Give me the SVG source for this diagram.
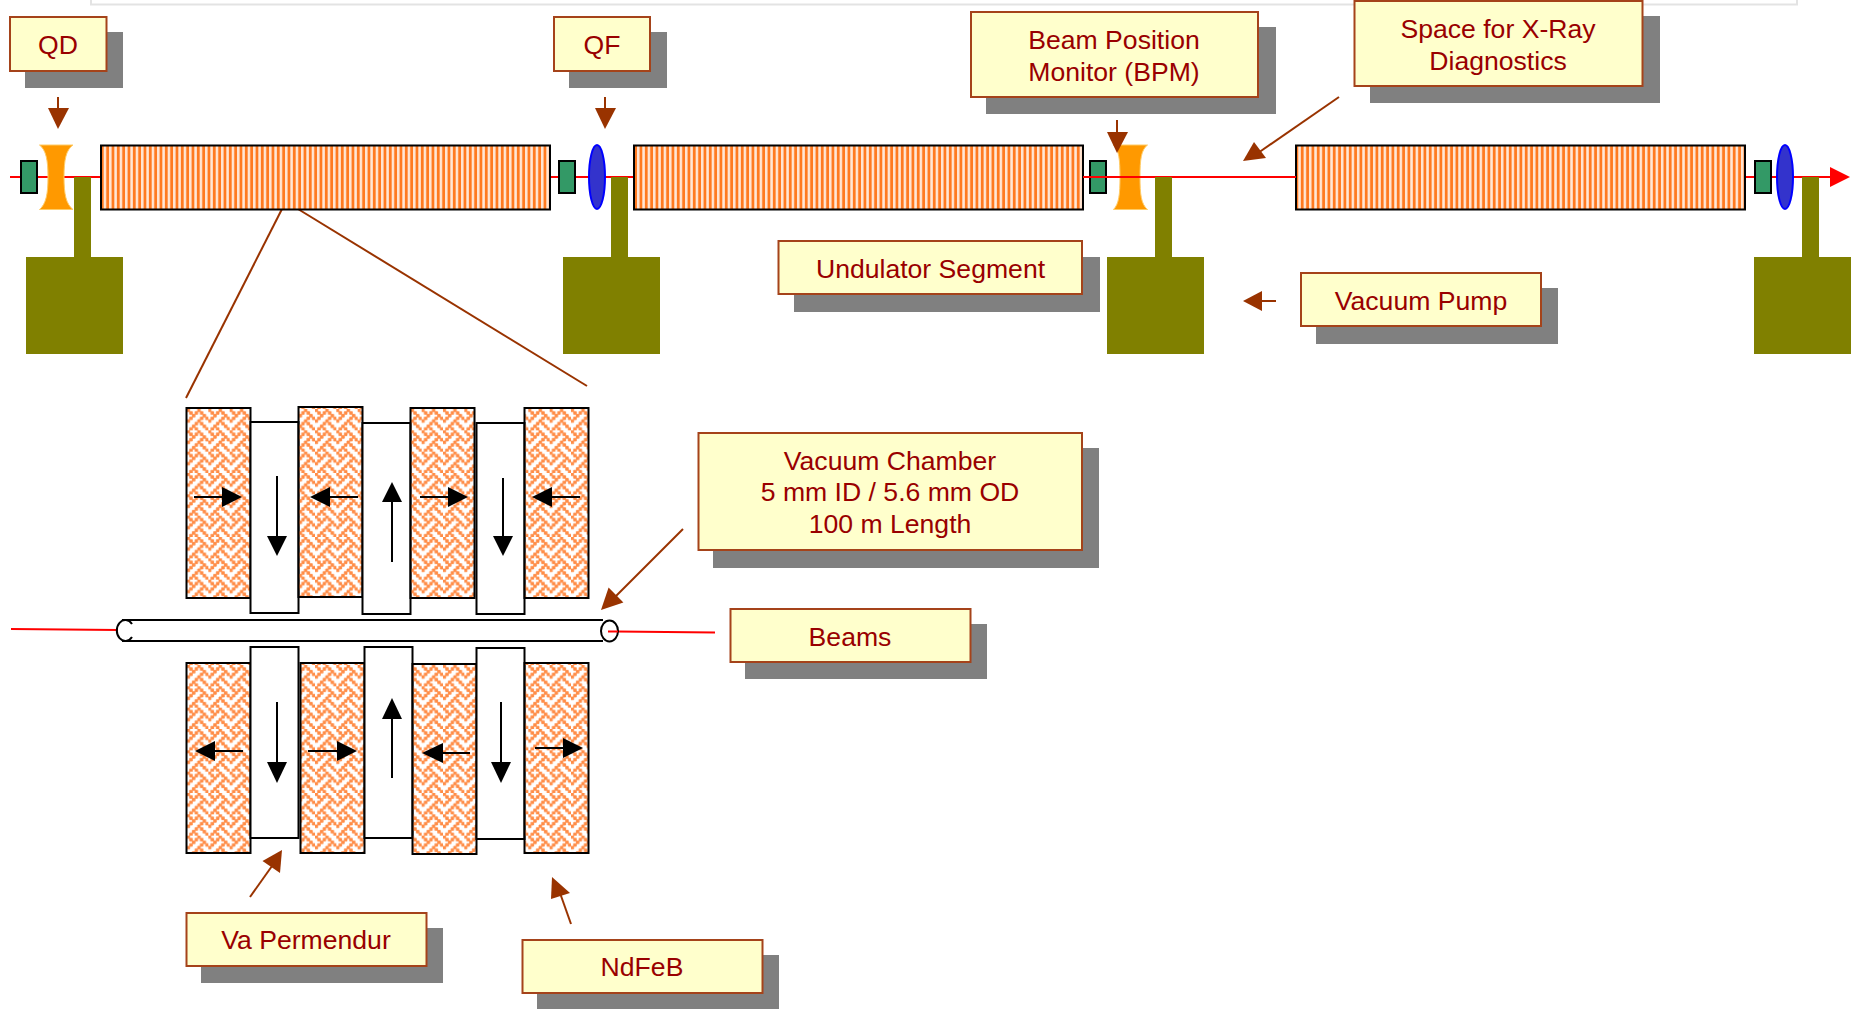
<svg xmlns="http://www.w3.org/2000/svg" width="1854" height="1009" viewBox="0 0 1854 1009">
<style>
.sh{fill:#808080}
.lb{fill:#ffffcc;stroke:#a5431a;stroke-width:2}
.tx{font-family:"Liberation Sans",Arial,sans-serif;font-size:26.600px;fill:#990000;text-anchor:middle}
.und{fill:url(#stripes);stroke:#000;stroke-width:2}
.mag{fill:url(#weave);stroke:#000;stroke-width:2}
.pole{fill:#fff;stroke:#000;stroke-width:2}
.bpm{fill:#339966;stroke:#000;stroke-width:2}
.qf{fill:#3333cc;stroke:#0000ff;stroke-width:2}
.qd{fill:#ff9900;stroke:#ffcc66;stroke-width:1}
.pump{fill:#808000}
.br{stroke:#993300;stroke-width:2;fill:none}
.ba{fill:#993300}
.k{stroke:#000;stroke-width:2;fill:none}
.beam{stroke:#ff0000;stroke-width:2;fill:none}
</style>
<defs>
<pattern id="stripes" patternUnits="userSpaceOnUse" width="5.333" height="8" x="101" y="0">
<rect width="5.333" height="8" fill="#ff7a20"/><rect x="2.700" width="2.500" height="8" fill="#ffe8d8"/>
</pattern>
<pattern id="weave" patternUnits="userSpaceOnUse" width="21.333" height="21.333" x="187" y="409">
<g transform="scale(2.6667)" fill="#ff8c45" stroke="#ff8c45" stroke-width=".3">
<path d="M0 0h1v1H0zM4 0h1v1H4zM1 1h1v1H1zM3 1h1v1H3zM5 1h1v1H5zM2 2h1v1H2zM6 2h1v1H6zM1 3h1v1H1zM5 3h1v1H5zM7 3h1v1H7zM0 4h1v1H0zM4 4h1v1H4zM3 5h1v1H3zM5 5h1v1H5zM2 6h1v1H2zM6 6h1v1H6zM1 7h1v1H1zM3 7h1v1H3zM7 7h1v1H7z"/>
</g>
</pattern>
</defs>
<path d="M91 0V4.500H1797V0" fill="none" stroke="#e3e3e3" stroke-width="2"/>

<g id="connectors">
<path class="beam" d="M10 177H1832"/>
<path class="beam" d="M11 629L118 630"/>
<path class="beam" d="M617 631.500L715 632.500"/>
<path class="br" d="M282 209L186 398"/>
<path class="br" d="M298 209L587 386"/>
</g>

<g id="undulators">
<rect class="und" x="101" y="145.500" width="449" height="64"/>
<rect class="und" x="634" y="145.500" width="449" height="64"/>
<rect class="und" x="1296" y="145.500" width="449" height="64"/>
</g>
<g id="bpms">
<rect class="bpm" x="21" y="161" width="16" height="32"/>
<rect class="bpm" x="559" y="161" width="16" height="32"/>
<rect class="bpm" x="1090" y="161" width="16" height="32"/>
<rect class="bpm" x="1755" y="161" width="16" height="32"/>
</g>
<g id="quads">
<path id="qd1" class="qd" d="M39.500 145H73C66 150 64 160 64 177S66 204 73 209.500H39.500C46 204 48 194 48 177S46 150 39.500 145Z"/>
<path id="qd2" class="qd" d="M1113.500 145H1147.500C1141 150 1140 160 1140 177S1141 204 1147.500 209.500H1113.500C1119 204 1120 194 1120 177S1119 150 1113.500 145Z"/>
<ellipse id="qf1" class="qf" cx="597" cy="177" rx="8" ry="32"/>
<ellipse id="qf2" class="qf" cx="1785" cy="177" rx="8" ry="32"/>
</g>
<g id="beam-over">
<path class="beam" d="M1083 177H1296"/>
</g>

<g id="pumps">
<rect class="pump" x="74" y="177" width="17" height="80"/><rect class="pump" x="26" y="257" width="97" height="97"/>
<rect class="pump" x="611" y="177" width="17" height="80"/><rect class="pump" x="563" y="257" width="97" height="97"/>
<rect class="pump" x="1155" y="177" width="17" height="80"/><rect class="pump" x="1107" y="257" width="97" height="97"/>
<rect class="pump" x="1802" y="177" width="17" height="80"/><rect class="pump" x="1754" y="257" width="97" height="97"/>
</g>

<g id="pointers">
<path d="M1830 167L1850 177L1830 187Z" fill="#ff0000"/>
<path class="br" d="M58 97V112"/><path class="ba" d="M48 108H69L58 129Z"/>
<path class="br" d="M605 97V112"/><path class="ba" d="M595 108H616L605 129Z"/>
<path class="br" d="M1117 120V135"/><path class="ba" d="M1107 132H1128L1117 153Z"/>
<path class="br" d="M1339 97L1258 153"/><path class="ba" d="M1254 142L1266 158L1243 161Z"/>
<path class="br" d="M1276 301H1260"/><path class="ba" d="M1262 291V311L1243 301Z"/>
<path class="br" d="M683 529L612 600"/><path class="ba" d="M608.600 587.600L623.400 602.400L601 610Z"/>
<path class="br" d="M250 897L272 866"/><path class="ba" d="M262.500 861L280 873L282 850Z"/>
<path class="br" d="M571 924L560 893"/><path class="ba" d="M551 899L570 893L552 877Z"/>
</g>

<g id="magnets">
<rect class="mag" x="186.500" y="408" width="64" height="190"/>
<rect class="pole" x="250.500" y="422" width="48" height="191"/>
<rect class="mag" x="298.500" y="407" width="64" height="190"/>
<rect class="pole" x="362.500" y="423" width="48" height="191"/>
<rect class="mag" x="410.500" y="408" width="64" height="190"/>
<rect class="pole" x="476.500" y="423" width="48" height="191"/>
<rect class="mag" x="524.500" y="408" width="64" height="190"/>

<rect class="mag" x="186.500" y="663" width="64" height="190"/>
<rect class="pole" x="250.500" y="647" width="48" height="191"/>
<rect class="mag" x="300.500" y="663" width="64" height="190"/>
<rect class="pole" x="364.500" y="647" width="48" height="191"/>
<rect class="mag" x="412.500" y="664" width="64" height="190"/>
<rect class="pole" x="476.500" y="648" width="48" height="191"/>
<rect class="mag" x="524.500" y="663" width="64" height="190"/>
</g>
<g id="chamber">
<path d="M122 620H603M122 641H603" class="k"/>
<path d="M132 624A8.500 10.500 0 1 0 132 637" class="k"/>
<ellipse cx="609.500" cy="631" rx="8.500" ry="10.500" fill="#fff" stroke="#000" stroke-width="2"/>
<path class="beam" d="M608 631.500L618 631.500"/>
</g>

<g id="field-arrows">
<path class="k" d="M194 497H225"/><path d="M222 487V507L242 497Z"/>
<path class="k" d="M277 476V540"/><path d="M267 536H287L277 556Z"/>
<path class="k" d="M358 497H327"/><path d="M330 487V507L310 497Z"/>
<path class="k" d="M392 562V500"/><path d="M382 502H402L392 482Z"/>
<path class="k" d="M420 497H450"/><path d="M448 487V507L468 497Z"/>
<path class="k" d="M503 478V540"/><path d="M493 536H513L503 556Z"/>
<path class="k" d="M580 497H550"/><path d="M552 487V507L532 497Z"/>

<path class="k" d="M243 751H213"/><path d="M215 741V761L195 751Z"/>
<path class="k" d="M277 702V768"/><path d="M267 762H287L277 783Z"/>
<path class="k" d="M308 751H340"/><path d="M337 741V761L357 751Z"/>
<path class="k" d="M392 778V715"/><path d="M382 719H402L392 698Z"/>
<path class="k" d="M470 753H440"/><path d="M443 743V763L422 753Z"/>
<path class="k" d="M501 702V768"/><path d="M491 762H511L501 783Z"/>
<path class="k" d="M535 748H566"/><path d="M563 738V758L583 748Z"/>
</g>

<g id="label-qd"><rect class="sh" x="25" y="32" width="98" height="56"/><rect class="lb" x="10" y="17" width="96.500" height="54"/><text class="tx" x="58" y="54">QD</text></g>
<g id="label-qf"><rect class="sh" x="569" y="32" width="98" height="56"/><rect class="lb" x="554" y="17" width="96" height="54"/><text class="tx" x="602" y="54">QF</text></g>
<g id="label-bpm"><rect class="sh" x="986" y="27" width="290" height="87"/><rect class="lb" x="971" y="12" width="287" height="85"/><text class="tx" x="1114" y="49">Beam Position</text><text class="tx" x="1114" y="81">Monitor (BPM)</text></g>
<g id="label-xray"><rect class="sh" x="1370" y="16" width="290" height="87"/><rect class="lb" x="1354.500" y="1" width="288" height="85"/><text class="tx" x="1498" y="38">Space for X-Ray</text><text class="tx" x="1498" y="70">Diagnostics</text></g>
<g id="label-undulator"><rect class="sh" x="794" y="257" width="306" height="55"/><rect class="lb" x="778.500" y="241" width="303.500" height="53"/><text class="tx" x="930.500" y="278">Undulator Segment</text></g>
<g id="label-pump"><rect class="sh" x="1316" y="288" width="242" height="56"/><rect class="lb" x="1301" y="273" width="240" height="53"/><text class="tx" x="1421" y="310">Vacuum Pump</text></g>
<g id="label-chamber"><rect class="sh" x="713" y="448" width="386" height="120"/><rect class="lb" x="698.500" y="433" width="383.500" height="117"/><text class="tx" x="890" y="470">Vacuum Chamber</text><text class="tx" x="890" y="501">5 mm ID / 5.6 mm OD</text><text class="tx" x="890" y="533">100 m Length</text></g>
<g id="label-beams"><rect class="sh" x="745" y="624" width="242" height="55"/><rect class="lb" x="730.500" y="609" width="240" height="53"/><text class="tx" x="850" y="646">Beams</text></g>
<g id="label-permendur"><rect class="sh" x="201" y="928" width="242" height="55"/><rect class="lb" x="186.500" y="913" width="240" height="53"/><text class="tx" x="306" y="949">Va Permendur</text></g>
<g id="label-ndfeb"><rect class="sh" x="537" y="955" width="242" height="54"/><rect class="lb" x="522.500" y="940" width="240" height="53"/><text class="tx" x="642" y="976">NdFeB</text></g>
</svg>
